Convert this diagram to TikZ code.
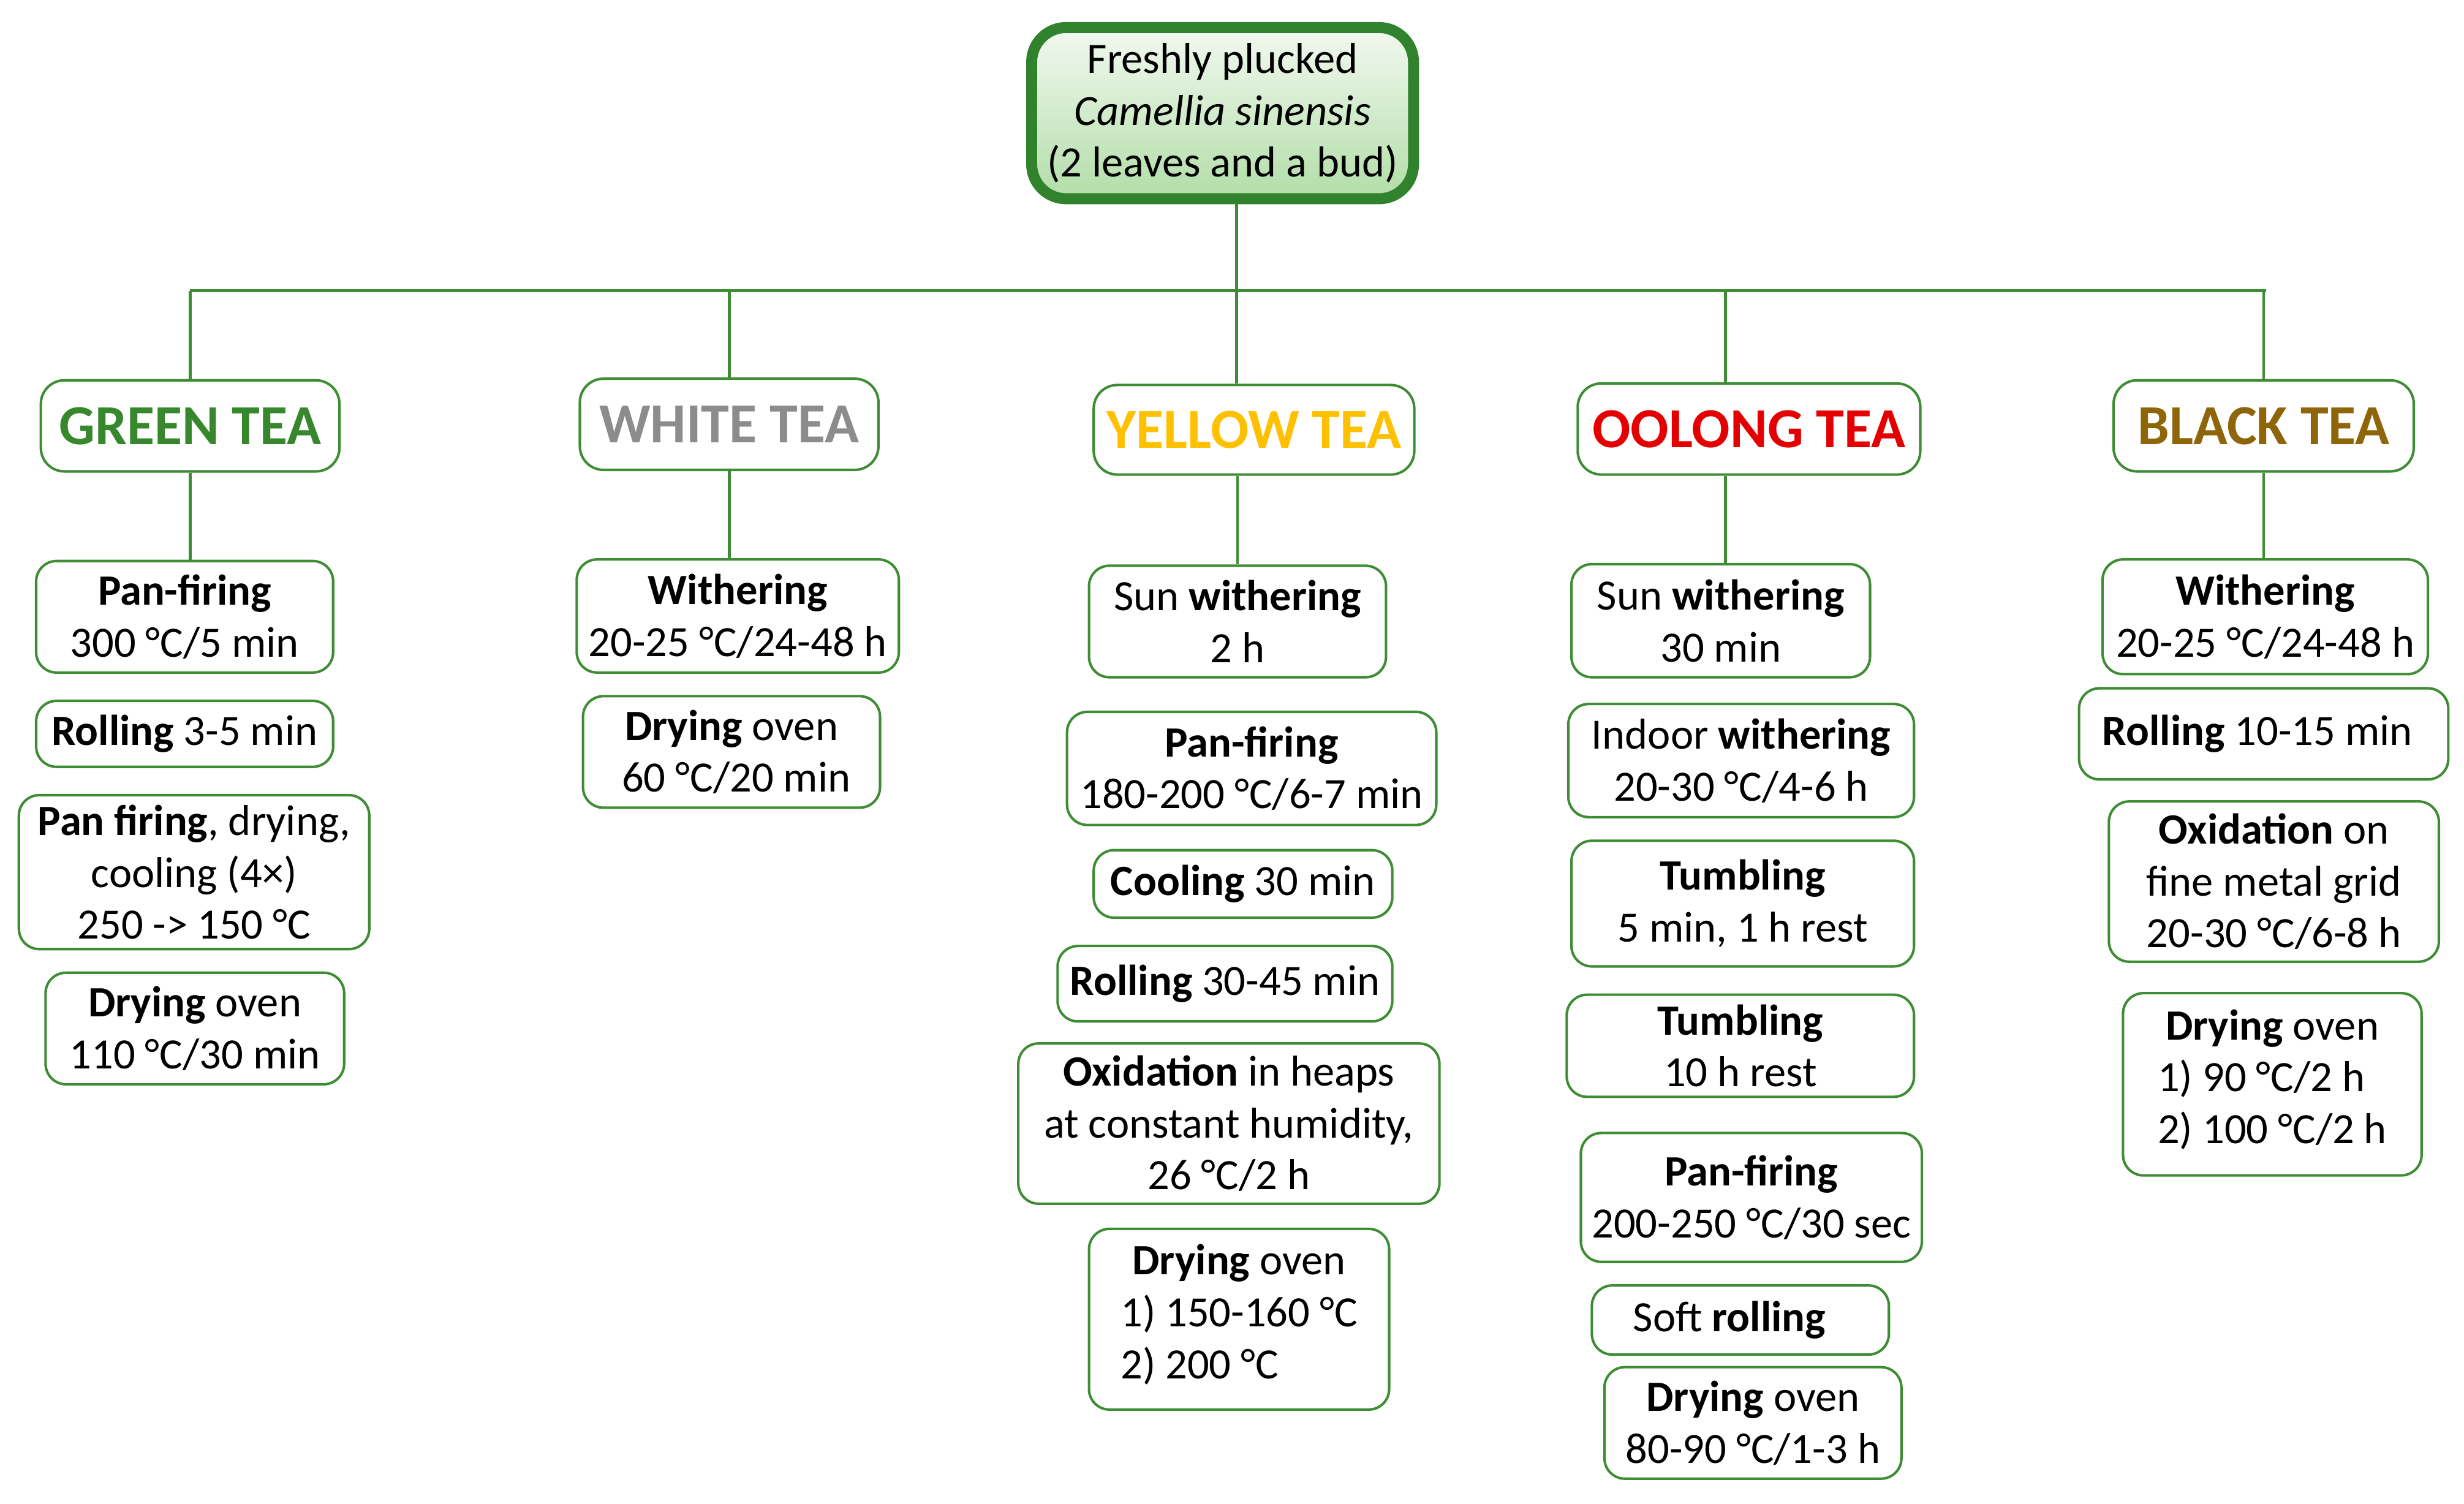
\documentclass[tikz,border=0pt]{standalone}
\usepackage{fontspec}
\setmainfont{Carlito}
\definecolor{lgreen}{RGB}{62,140,52}
\definecolor{dgreen}{RGB}{49,130,44}
\definecolor{topA}{RGB}{242,249,240}
\definecolor{topB}{RGB}{178,221,168}
\definecolor{cgreen}{RGB}{55,135,45}
\definecolor{cwhite}{RGB}{140,140,140}
\definecolor{cyellow}{RGB}{255,192,0}
\definecolor{cred}{RGB}{228,0,0}
\definecolor{cbrown}{RGB}{142,101,8}
\begin{document}
\begin{tikzpicture}[x=1pt,y=-1pt,
  every node/.style={font=\fontsize{27.5}{33}\selectfont, inner sep=0pt, align=center},
  sz/.style 2 args={minimum width=#1pt, minimum height=#2pt},
  stepbox/.style={draw=lgreen, line width=1.6pt, rounded corners=13pt, fill=white},
  titlebox/.style={stepbox, rounded corners=15pt, font=\fontsize{36}{43}\selectfont\bfseries},
  conn/.style={draw=lgreen, line width=1.8pt}]
\useasboundingbox (0,0) rectangle (1568,957);

% root
\node[draw=dgreen, line width=7pt, rounded corners=22pt, top color=topA, bottom color=topB, sz={243}{109}] (top) at (778,72)
  {Freshly plucked\\\textit{Camellia sinensis}\\(2 leaves and a bud)};

% titles
\node[titlebox, sz={190}{58}, text=cgreen] (gT) at (121,271) {GREEN TEA};
\node[titlebox, sz={190}{58}, text=cwhite] (wT) at (464,270) {WHITE TEA};
\node[titlebox, sz={204}{57}, text=cyellow] (yT) at (798,273.5) {YELLOW TEA};
\node[titlebox, sz={218}{58}, text=cred] (oT) at (1113,273) {OOLONG TEA};
\node[titlebox, sz={191}{58}, text=cbrown] (bT) at (1440.5,271) {BLACK TEA};

% green
\node[stepbox, sz={189}{71}] (g1) at (117.5,392.5) {\textbf{Pan-firing}\\300 °C/5 min};
\node[stepbox, sz={189}{42}] (g2) at (117.5,467) {\textbf{Rolling} 3-5 min};
\node[stepbox, sz={223}{98}] (g3) at (123.5,555) {\textbf{Pan firing}, drying,\\cooling (4×)\\250 -> 150 °C};
\node[stepbox, sz={190}{71}] (g4) at (124,654.5) {\textbf{Drying} oven\\110 °C/30 min};

% white
\node[stepbox, sz={205}{72}] (w1) at (469.5,392) {\textbf{Withering}\\20-25 °C/24-48 h};
\node[stepbox, sz={189}{71}] (w2) at (465.5,478.5) {\textbf{Drying} oven\\\hspace*{6pt}60 °C/20 min};

% yellow
\node[stepbox, sz={189}{71}] (y1) at (787.5,395.5) {Sun \textbf{withering}\\2 h};
\node[stepbox, sz={235}{72}] (y2) at (796.5,489) {\textbf{Pan-firing}\\180-200 °C/6-7 min};
\node[stepbox, sz={190}{43}] (y3) at (791,562.5) {\textbf{Cooling} 30 min};
\node[stepbox, sz={213}{48}] (y4) at (779.5,626) {\textbf{Rolling} 30-45 min};
\node[stepbox, sz={268}{102}] (y5) at (782,715) {\textbf{Oxidation} in heaps\\at constant humidity,\\26 °C/2 h};
\node[stepbox, sz={191}{115}] (y6) at (788.5,839.5) {\textbf{Drying} oven\\\begin{tabular}[t]{@{}l@{}}1) 150-160 °C\\2) 200 °C\end{tabular}};

% oolong
\node[stepbox, sz={190}{72}] (o1) at (1095,395) {Sun \textbf{withering}\\30 min};
\node[stepbox, sz={220}{72}] (o2) at (1108,484) {Indoor \textbf{withering}\\20-30 °C/4-6 h};
\node[stepbox, sz={218}{80}] (o3) at (1109,575) {\textbf{Tumbling}\\5 min, 1 h rest};
\node[stepbox, sz={221}{65}] (o4) at (1107.5,665.5) {\textbf{Tumbling}\\10 h rest};
\node[stepbox, sz={217}{82}] (o5) at (1114.5,762) {\textbf{Pan-firing}\\200-250 °C/30 sec};
\node[stepbox, sz={189}{44}] (o6) at (1107.5,840) {Soft \textbf{rolling}\hspace*{14pt}};
\node[stepbox, sz={189}{71}] (o7) at (1115.5,905.5) {\textbf{Drying} oven\\80-90 °C/1-3 h};

% black
\node[stepbox, sz={207}{73}] (b1) at (1441.5,392.5) {\textbf{Withering}\\20-25 °C/24-48 h};
\node[stepbox, sz={235}{58}] (b2) at (1440.5,467) {\textbf{Rolling} 10-15 min\hspace*{8pt}};
\node[stepbox, sz={210}{102}] (b3) at (1447,561) {\textbf{Oxidation} on\\fine metal grid\\20-30 °C/6-8 h};
\node[stepbox, sz={190}{116}] (b4) at (1446,690) {\textbf{Drying} oven\\\begin{tabular}[t]{@{}l@{}}1) 90 °C/2 h\\2) 100 °C/2 h\end{tabular}};

% connectors
\coordinate (busL) at (121,185);
\coordinate (busR) at (1442,185);
\coordinate (busM) at (787,185);
\coordinate (oX) at (1098,185);
\draw[conn] (top.south -| busM) -- (busM);
\draw[conn] (busL) -- (busR);
\draw[conn] (gT.north) -- (gT.north |- busM);
\draw[conn] (wT.north) -- (wT.north |- busM);
\draw[conn] (yT.north -| busM) -- (busM);
\draw[conn] (oT.north -| oX) -- (oX);
\draw[conn] (bT.north) -- (bT.north |- busM);
\draw[conn] (gT.south) -- (gT.south |- g1.north);
\draw[conn] (wT.south) -- (wT.south |- w1.north);
\draw[conn] (yT.south -| y1.north) -- (y1.north);
\draw[conn] (oT.south -| oX) -- (oX |- o1.north);
\draw[conn] (bT.south) -- (bT.south |- b1.north);
\end{tikzpicture}
\end{document}
